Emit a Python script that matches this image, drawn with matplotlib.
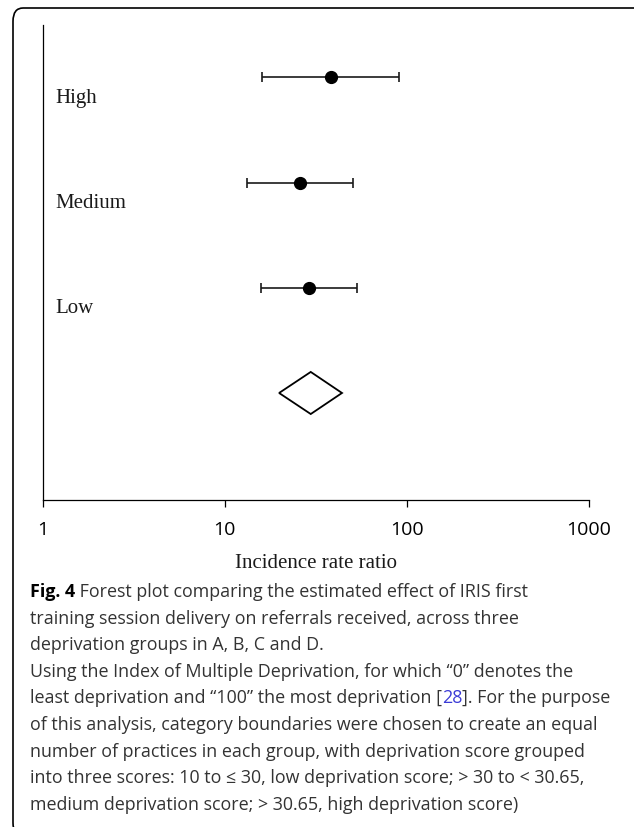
import matplotlib
matplotlib.use("Agg")
import matplotlib.pyplot as plt
from matplotlib.patches import FancyBboxPatch, Polygon
from matplotlib.transforms import blended_transform_factory
import numpy as np

# forest plot values (incidence rate ratios)
groups = ["High", "Medium", "Low"]
irr = [38.2, 25.9, 29.1]
ci_low = [16.0, 13.3, 15.8]
ci_high = [90.7, 50.9, 53.1]
rows = [4, 3, 2]

pooled = 29.7
pooled_low = 19.9
pooled_high = 44.1
pooled_row = 1

xticks = [1, 10, 100, 1000]
xticklabels = ["1", "10", "100", "1000"]

caption = [
    "training session delivery on referrals received, across three",
    "deprivation groups in A, B, C and D.",
    "Using the Index of Multiple Deprivation, for which \u201c0\u201d denotes the",
    None,
    "of this analysis, category boundaries were chosen to create an equal",
    "number of practices in each group, with deprivation score grouped",
    "into three scores: 10 to \u2264 30, low deprivation score; > 30 to < 30.65,",
    "medium deprivation score; > 30.65, high deprivation score)",
]

W, H = 634, 827
fig = plt.figure(figsize=(W / 100, H / 100), dpi=100)

# rounded frame around the figure panel (cut at right/bottom edges)
frame = FancyBboxPatch((13 / W, 1 - 836 / H), 640 / W, 828 / H,
                       boxstyle="round,pad=0,rounding_size=0.016",
                       transform=fig.transFigure, fill=False,
                       edgecolor="black", linewidth=1.2)
fig.patches.append(frame)

ax = fig.add_axes([42.7 / W, 1 - 500 / H, 546 / W, 475 / H])
ax.set_xscale("log")
ax.set_xlim(1, 1000)
ax.set_ylim(-0.017, 4.497)

xerr = [np.array(irr) - np.array(ci_low), np.array(ci_high) - np.array(irr)]
ax.errorbar(irr, rows, xerr=xerr, fmt="o", color="black", ecolor="#1a1a1a",
            markersize=8.5, elinewidth=1.2, capsize=3.6, capthick=1.2)

diamond = Polygon([[pooled_low, pooled_row], [pooled, pooled_row + 0.2],
                   [pooled_high, pooled_row], [pooled, pooled_row - 0.2]],
                  closed=True, fill=False, edgecolor="black", linewidth=1.3)
ax.add_patch(diamond)

trans = blended_transform_factory(ax.transAxes, ax.transData)
for g, r in zip(groups, rows):
    ax.text(0.0225, r - 0.2, g, transform=trans, ha="left", va="center",
            fontsize=15, family="Liberation Serif", color="#1a1a1a")

for s in ["top", "right"]:
    ax.spines[s].set_visible(False)
for s in ["left", "bottom"]:
    ax.spines[s].set_linewidth(0.9)
ax.set_yticks([])
ax.set_xticks(xticks)
ax.set_xticklabels(xticklabels, family="Open Sans", fontsize=14)
ax.xaxis.set_minor_locator(matplotlib.ticker.NullLocator())
ax.tick_params(axis="x", length=5, width=0.9, pad=10, direction="out")

ax.set_xlabel("Incidence rate ratio", family="Liberation Serif", fontsize=15,
              color="#1a1a1a")
ax.xaxis.set_label_coords(0.5, -64 / 475)
ax.xaxis.label.set_va("center")

# caption
cap_font = dict(family="Open Sans", fontsize=12.9)
x0 = 30 / W
base0 = 597
step = 26.6
t = fig.text(x0, 1 - base0 / H, "Fig. 4", fontweight="bold", color="black",
             va="baseline", ha="left", **cap_font)
ax.annotate(" Forest plot comparing the estimated effect of IRIS first",
            xy=(1, 0), xycoords=t, va="bottom", ha="left", color="#333333",
            annotation_clip=False, **cap_font)

for i, line in enumerate(caption):
    y = 1 - (base0 + (i + 1) * step) / H
    if line is None:
        a = fig.text(x0, y, "least deprivation and \u201c100\u201d the most deprivation [",
                     color="#333333", va="baseline", ha="left", **cap_font)
        b = ax.annotate("28", xy=(1, 0), xycoords=a, va="bottom", ha="left",
                        color="#3b3bd6", annotation_clip=False, **cap_font)
        ax.annotate("]. For the purpose", xy=(1, 0), xycoords=b, va="bottom",
                    ha="left", color="#333333", annotation_clip=False, **cap_font)
    else:
        fig.text(x0, y, line, color="#333333", va="baseline", ha="left", **cap_font)

fig.savefig("out.png", dpi=100)
